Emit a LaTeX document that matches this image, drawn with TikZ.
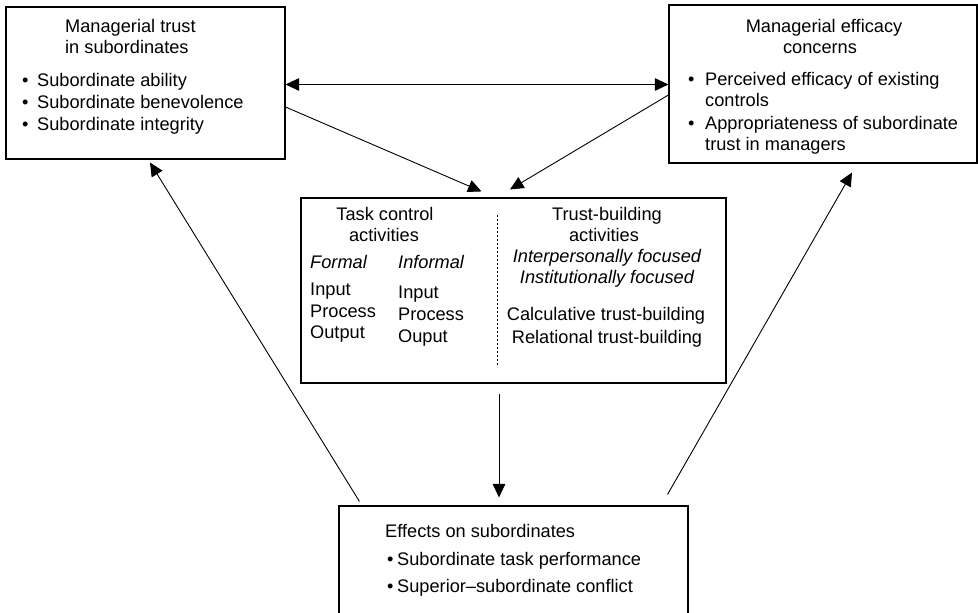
\documentclass[tikz,border=0pt]{standalone}
\usepackage{fontspec}
\setmainfont{Liberation Sans}
\usetikzlibrary{arrows.meta}
\begin{document}
\begin{tikzpicture}[x=1pt,y=-1pt,
  box/.style={draw, line width=1.1pt, inner sep=0pt},
  txt/.style={inner sep=0pt, anchor=base west, font=\fontsize{18.2}{21.7}\selectfont},
  ctxt/.style={txt, anchor=base},
  itxt/.style={txt, font=\fontsize{18.2}{21.7}\selectfont\itshape},
  ictxt/.style={itxt, anchor=base},
  conn/.style={line width=0.9pt, -{Triangle[length=13.5pt,width=12.5pt]}},
  dconn/.style={line width=0.9pt, {Triangle[length=13.5pt,width=12.5pt]}-{Triangle[length=13.5pt,width=12.5pt]}},
]
\useasboundingbox (0,0) rectangle (978,613);

% boxes
\node[box, minimum width=279pt, minimum height=152pt] (L) at (145.5,83) {};
\node[box, minimum width=308pt, minimum height=158pt] (R) at (823,84) {};
\node[box, minimum width=425pt, minimum height=185pt] (M) at (513.5,290.5) {};
\node[box, minimum width=349pt, minimum height=124pt] (B) at (513.5,568) {};

% left box text
\node[txt] (l1) at (65,32) {Managerial trust};
\node[txt] (l2) at (65,53.5) {in subordinates};
\node[txt] (lb1) at (22,86) {•};
\node[txt] (l3) at (37,86) {Subordinate ability};
\node[txt] (lb2) at (22,108) {•};
\node[txt] (l4) at (37,108) {Subordinate benevolence};
\node[txt] (lb3) at (22,130) {•};
\node[txt] (l5) at (37,130) {Subordinate integrity};

% right box text
\node[ctxt] (r1) at (824,32) {Managerial efficacy};
\node[ctxt] (r2) at (820,53) {concerns};
\node[txt] (rb1) at (688,85) {•};
\node[txt] (r3) at (705,85) {Perceived efficacy of existing};
\node[txt] (r4) at (705,106) {controls};
\node[txt] (rb2) at (688,129) {•};
\node[txt] (r5) at (705,129) {Appropriateness of subordinate};
\node[txt] (r6) at (705,150) {trust in managers};

% middle box text
\node[ctxt] (m1) at (385,220) {Task control};
\node[ctxt] (m2) at (384,241) {activities};
\node[itxt] (m3) at (310,268) {Formal};
\node[itxt] (m4) at (398,268) {Informal};
\node[txt] (m5) at (310,295) {Input};
\node[txt] (m6) at (310,317) {Process};
\node[txt] (m7) at (310,338) {Output};
\node[txt] (m8) at (398,298) {Input};
\node[txt] (m9) at (398,320) {Process};
\node[txt] (m10) at (398,342) {Ouput};
\node[ctxt] (n1) at (607,220) {Trust-building};
\node[ctxt] (n2) at (604,241) {activities};
\node[ictxt] (n3) at (607,262) {Interpersonally focused};
\node[ictxt] (n4) at (607,283) {Institutionally focused};
\node[ctxt] (n5) at (606,320) {Calculative trust-building};
\node[ctxt] (n6) at (607,343) {Relational trust-building};
\draw[line width=0.6pt, dash pattern=on 2pt off 2pt] (497,215) -- (497,367);

% bottom box text
\node[txt] (b1) at (385,537) {Effects on subordinates};
\node[txt] (bb1) at (387,565) {•};
\node[txt] (b2) at (397,565) {Subordinate task performance};
\node[txt] (bb2) at (387,592) {•};
\node[txt] (b3) at (397,592) {Superior–subordinate conflict};

% connectors
\draw[dconn] ([yshift=-1.5pt]L.east) -- ([yshift=-0.5pt]R.west);
\draw[conn] ([yshift=-24pt]L.east) -- ([shift={(-32pt,6pt)}]M.north);
\draw[conn] ([yshift=-11pt]R.west) -- ([shift={(-3.5pt,8pt)}]M.north);
\draw[conn] ([shift={(-14.5pt,-10pt)}]M.south) -- ([shift={(-14.5pt,8pt)}]B.north);
\draw[conn] ([shift={(21pt,4pt)}]B.north west) -- ([shift={(4.5pt,-3pt)}]L.south);
\draw[conn] ([shift={(-21pt,11pt)}]B.north east) -- ([shift={(29pt,-9pt)}]R.south);
\end{tikzpicture}
\end{document}
